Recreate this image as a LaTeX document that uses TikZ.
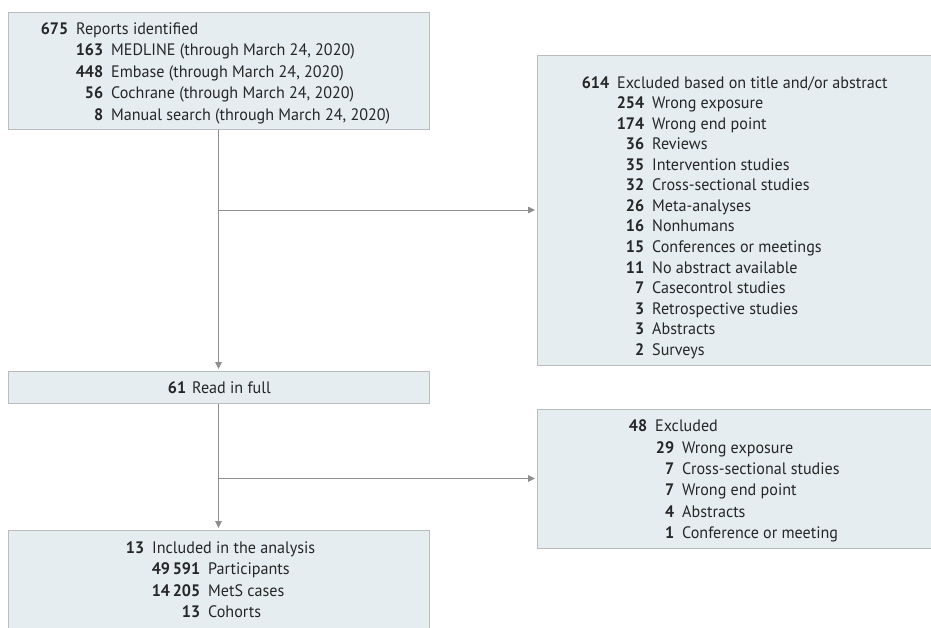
\documentclass[tikz,border=0pt]{standalone}
\usepackage{fontspec}
\setmainfont{PT Sans}[FakeStretch=0.97]
\usepackage{tikz}
\usetikzlibrary{arrows.meta}
\definecolor{boxfill}{HTML}{E6EDF1}
\definecolor{boxline}{HTML}{B9BDC0}
\definecolor{arrline}{HTML}{8E8E8E}
\newcommand{\nb}[1]{\llap{\textbf{#1}\hspace{8pt}}}
\tikzset{
	box/.style={draw=boxline, fill=boxfill, line width=1pt, inner sep=0pt},
	item/.style={anchor=base west, inner sep=0pt, text=black!85, font=\fontsize{16.6}{20}\selectfont},
	arr/.style={draw=arrline, line width=1pt, shorten >=1.5pt, -{Triangle[length=7pt,width=6.5pt]}},
}

\begin{document}
\begin{tikzpicture}[x=1pt,y=-1pt]
			%%Location
			\clip (0,0) rectangle (931,627);
			%%Boxes
			\node[box, minimum width=421pt, minimum height=117pt] (rep) at (218.5,70.5) {};
			\node[box, minimum width=403pt, minimum height=310pt] (exa) at (738.5,210) {};
			\node[box, minimum width=421pt, minimum height=32pt] (read) at (218.5,387) {};
			\node[box, minimum width=403pt, minimum height=139pt] (exb) at (738.5,478.5) {};
			\node[box, minimum width=421pt, minimum height=110pt] (incl) at (218.5,585) {};
			%%Arrows
			\draw[arr] (rep.south) -- (read.north);
			\draw[arr] (rep.south |- exa.west) -- (exa.west);
			\draw[arr] (read.south) -- (incl.north);
			\draw[arr] (read.south |- exb.west) -- (exb.west);

			%%Reports
			\node[item] (r0) at (76,34) {\nb{675}Reports identified};
			\node[item] (r1) at (111,55.5) {\nb{163}MEDLINE (through March 24, 2020)};
			\node[item] (r2) at (111,77) {\nb{448}Embase (through March 24, 2020)};
			\node[item] (r3) at (111,98.5) {\nb{56}Cochrane (through March 24, 2020)};
			\node[item] (r4) at (111,120) {\nb{8}Manual search (through March 24, 2020)};
			%%Excluded on title/abstract
			\node[item] (a0) at (617,88) {\nb{614}Excluded based on title and/or abstract};
			\node[item] (a1) at (652,108.5) {\nb{254}Wrong exposure};
			\node[item] (a2) at (652,129) {\nb{174}Wrong end point};
			\node[item] (a3) at (652,149.7) {\nb{36}Reviews};
			\node[item] (a4) at (652,170.2) {\nb{35}Intervention studies};
			\node[item] (a5) at (652,190.8) {\nb{32}Cross-sectional studies};
			\node[item] (a6) at (652,211.3) {\nb{26}Meta-analyses};
			\node[item] (a7) at (652,231.9) {\nb{16}Nonhumans};
			\node[item] (a8) at (652,252.4) {\nb{15}Conferences or meetings};
			\node[item] (a9) at (652,273) {\nb{11}No abstract available};
			\node[item] (a10) at (652,293.5) {\nb{7}Casecontrol studies};
			\node[item] (a11) at (652,314) {\nb{3}Retrospective studies};
			\node[item] (a12) at (652,334.6) {\nb{3}Abstracts};
			\node[item] (a13) at (652,355) {\nb{2}Surveys};
			%%Read in full
			\node[item] (f0) at (194,393) {\nb{61}\hspace{-2pt}Read in full};
			%%Excluded after reading
			\node[item] (b0) at (655,431.7) {\nb{48}Excluded};
			\node[item] (b1) at (682,453) {\nb{29}Wrong exposure};
			\node[item] (b2) at (682,474.3) {\nb{7}Cross-sectional studies};
			\node[item] (b3) at (682,495.6) {\nb{7}Wrong end point};
			\node[item] (b4) at (682,517) {\nb{4}Abstracts};
			\node[item] (b5) at (682,538.3) {\nb{1}Conference or meeting};
			%%Included
			\node[item] (i0) at (152,553.3) {\nb{13}Included in the analysis};
			\node[item] (i1) at (208,574.8) {\nb{49\,591}Participants};
			\node[item] (i2) at (208,596.2) {\nb{14\,205}MetS cases};
			\node[item] (i3) at (208,617.7) {\nb{13}Cohorts};
\end{tikzpicture}
\end{document}
